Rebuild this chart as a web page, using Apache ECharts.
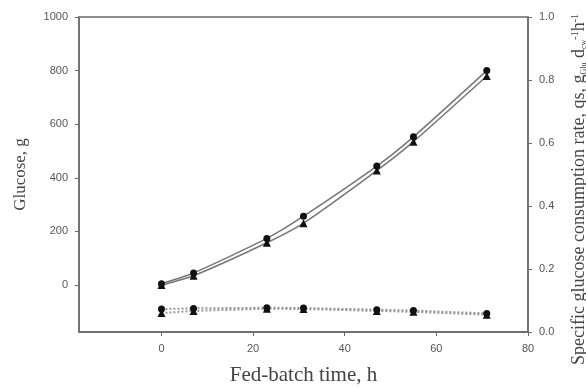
<!DOCTYPE html>
<html>
<head>
<meta charset="utf-8">
<script src="https://cdn.jsdelivr.net/npm/echarts@6/dist/echarts.min.js"></script>
<style>html,body{margin:0;padding:0;background:#fff}#c{width:586px;height:388px}</style>
</head>
<body>
<div id="c"></div>
<script>
var timeH = [0, 7, 23, 31, 47, 55, 71];
var glucoseCircle = [5, 45, 174, 257, 444, 553, 800];
var glucoseTriangle = [0, 35, 158, 231, 427, 535, 780];
var qsCircle = [0.073, 0.075, 0.077, 0.076, 0.071, 0.068, 0.059];
var qsTriangle = [0.060, 0.067, 0.074, 0.073, 0.067, 0.064, 0.055];
var xTicks = [0, 20, 40, 60, 80];
var leftTicks = [0, 200, 400, 600, 800, 1000];

function pairs(xs, ys) { return xs.map(function (x, i) { return [x, ys[i]]; }); }

var axisCol = '#6a6a6a';
var labelStyle = { color: '#555', fontSize: 11, fontFamily: 'Liberation Sans, Arial, sans-serif' };
var titleFont = 'Liberation Serif, Times New Roman, serif';

var chart = echarts.init(document.getElementById('c'));
chart.setOption({
  animation: false,
  grid: { left: 79, right: 58, top: 17, bottom: 56, outerBoundsMode: 'none', containLabel: false, show: true, borderColor: axisCol, borderWidth: 1.5, backgroundColor: 'transparent' },
  xAxis: {
    type: 'value', min: -18, max: 80,
    name: 'Fed-batch time, h', nameLocation: 'middle', nameGap: 33,
    nameTextStyle: { color: '#444', fontSize: 21, fontFamily: titleFont },
    axisLine: { show: true, onZero: false, lineStyle: { color: axisCol, width: 1.5 } },
    axisTick: { show: true, length: 4, customValues: xTicks, lineStyle: { color: axisCol } },
    axisLabel: Object.assign({ customValues: xTicks, margin: 11, formatter: function (v) { return String(v); } }, labelStyle),
    splitLine: { show: false }
  },
  yAxis: [{
    type: 'value', min: -175, max: 1000, position: 'left',
    name: 'Glucose, g', nameLocation: 'middle', nameGap: 50, nameRotate: 90,
    nameTextStyle: { color: '#444', fontSize: 17, fontFamily: titleFont },
    axisLine: { show: true, onZero: false, lineStyle: { color: axisCol, width: 1.5 } },
    axisTick: { show: true, length: 4, customValues: leftTicks, lineStyle: { color: axisCol } },
    axisLabel: Object.assign({ customValues: leftTicks, margin: 11, formatter: function (v) { return String(v); } }, labelStyle),
    splitLine: { show: false }
  }, {
    type: 'value', min: 0, max: 1, interval: 0.2, position: 'right',
    name: '{n|Specific glucose consumption rate, qs, g}{s|Glu}{n| d}{s|cw}{p|-1}{n|h}{p|-1}',
    nameLocation: 'middle', nameGap: 42, nameRotate: 90,
    nameTextStyle: {
      color: '#444', fontFamily: titleFont, fontSize: 18, padding: [0, 30, 0, 0],
      rich: {
        n: { color: '#444', fontFamily: titleFont, fontSize: 18 },
        s: { color: '#444', fontFamily: titleFont, fontSize: 8, verticalAlign: 'bottom', padding: [7, 0, 0, 0] },
        p: { color: '#444', fontFamily: titleFont, fontSize: 10, verticalAlign: 'top', padding: [0, 0, 7, 0] }
      }
    },
    axisLine: { show: true, onZero: false, lineStyle: { color: axisCol, width: 1.5 } },
    axisTick: { show: true, length: 4, lineStyle: { color: axisCol } },
    axisLabel: Object.assign({ margin: 11, formatter: function (v) { return v.toFixed(1); } }, labelStyle),
    splitLine: { show: false }
  }],
  series: [{
    type: 'line', yAxisIndex: 0, data: pairs(timeH, glucoseCircle),
    symbol: 'circle', symbolSize: 7, smooth: 0.2,
    lineStyle: { color: '#777', width: 1.5 }, itemStyle: { color: '#111' }
  }, {
    type: 'line', yAxisIndex: 0, data: pairs(timeH, glucoseTriangle),
    symbol: 'triangle', symbolSize: 8, smooth: 0.2,
    lineStyle: { color: '#777', width: 1.5 }, itemStyle: { color: '#111' }
  }, {
    type: 'line', yAxisIndex: 1, data: pairs(timeH, qsCircle),
    symbol: 'circle', symbolSize: 7,
    lineStyle: { color: '#999', width: 2, type: 'dotted' }, itemStyle: { color: '#111' }
  }, {
    type: 'line', yAxisIndex: 1, data: pairs(timeH, qsTriangle),
    symbol: 'triangle', symbolSize: 8,
    lineStyle: { color: '#999', width: 2, type: 'dotted' }, itemStyle: { color: '#111' }
  }]
});
</script>
</body>
</html>
